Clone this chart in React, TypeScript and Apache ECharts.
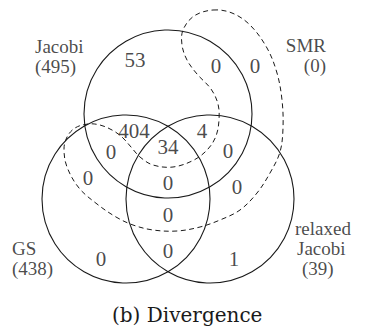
import { useEffect, useRef } from 'react';
import * as echarts from 'echarts';

// Cells of the divergence diagram: set membership (J = Jacobi, G = GS,
// R = relaxed Jacobi, S = SMR) and the number of cases in each cell.
const REGION_KEYS = ['J', 'J+S', 'S', 'J+G', 'J+R', 'J+G+S', 'J+G+R', 'J+R+S', 'G+S', 'J+G+R+S', 'R+S', 'G+R+S', 'G', 'G+R', 'R'];
const REGION_COUNTS = [53, 0, 0, 404, 4, 0, 34, 0, 0, 0, 0, 0, 0, 0, 1];

// Set names and totals.
const SET_NAME_LINES = [['Jacobi'], ['SMR'], ['GS'], ['relaxed', 'Jacobi']];
const SET_TOTALS = [495, 0, 438, 39];

const CAPTION = '(b) Divergence';

// ---- layout (diagram coordinates, y grows downward) ----
const REGION_ANCHORS: number[][] = [
  [135, 60], [216, 66], [255, 66], [134, 131], [202, 131], [111, 152], [168, 147],
  [228, 151], [88, 178], [168, 183], [237, 187], [168, 215], [101, 259], [168, 251], [234, 259],
];

// Circles for Jacobi, GS and relaxed Jacobi: [cx, cy, r].
const CIRCLES: number[][] = [
  [168, 114, 84],
  [126, 199, 84],
  [210, 199, 84],
];

// Outline of the SMR set (closed, drawn dashed).
const SMR_OUTLINE: number[][] = [
  [213, 10], [232, 13], [250, 25], [267, 48], [277, 73], [282, 100], [283, 128], [280, 152],
  [270, 173], [257, 193], [240, 210], [220, 220], [200, 227], [177, 231], [153, 230], [133, 225],
  [116, 217], [97, 204], [79, 188], [67, 167], [64, 149], [67, 137], [75, 128], [88, 124],
  [100, 125], [112, 130], [122, 137], [131, 147], [140, 157], [153, 165], [173, 167], [194, 160],
  [208, 149], [216, 136], [219, 120], [218, 104], [211, 89], [197, 74], [187, 60], [182, 45],
  [183, 30], [194, 16],
];

// Top-left anchor of each set label block, text alignment and per-line indent.
const SET_LABEL_LAYOUT: { anchor: number[]; align: 'left' | 'right'; indents: number[] }[] = [
  { anchor: [35, 36], align: 'left', indents: [0, 0] },
  { anchor: [326, 35], align: 'right', indents: [0, 0] },
  { anchor: [12, 238], align: 'left', indents: [0, 0] },
  { anchor: [295, 218], align: 'left', indents: [0, 2, 7] },
];

const SERIF = 'Liberation Serif';
const INK = '#1a1a1a';
const LINE_H = 20;

export default function App() {
  const ref = useRef<HTMLDivElement>(null);

  useEffect(() => {
    if (!ref.current) return;
    const chart = echarts.init(ref.current, undefined, { renderer: 'svg' });

    const regionData = REGION_KEYS.map((key, i) => ({
      name: key,
      value: [REGION_ANCHORS[i][0], REGION_ANCHORS[i][1], REGION_COUNTS[i]],
    }));

    const setLabelData = SET_NAME_LINES.map((nameLines, i) => {
      const texts = [...nameLines, `(${SET_TOTALS[i]})`];
      const layout = SET_LABEL_LAYOUT[i];
      const rich: Record<string, any> = {};
      const lines = texts.map((t, j) => {
        const key = `l${j}`;
        rich[key] = {
          fontFamily: SERIF,
          fontSize: 19,
          color: INK,
          lineHeight: LINE_H,
          padding: [0, 0, 0, layout.indents[j]],
        };
        return `{${key}|${t}}`;
      });
      return {
        name: SET_NAME_LINES[i].join(' '),
        value: layout.anchor,
        label: {
          align: layout.align,
          verticalAlign: 'top',
          formatter: lines.join('\n'),
          rich,
        },
      };
    });

    chart.setOption({
      animation: false,
      backgroundColor: '#ffffff',
      graphic: [
        {
          type: 'text',
          left: 112,
          top: 305,
          silent: true,
          style: {
            text: CAPTION,
            font: '20px "DejaVu Serif"',
            fill: INK,
          },
        },
      ],
      grid: { left: 0, right: 0, top: 0, bottom: 0 },
      xAxis: { type: 'value', min: 0, max: 366, show: false },
      yAxis: { type: 'value', min: 0, max: 327, inverse: true, show: false },
      series: [
        {
          type: 'custom',
          name: 'sets',
          data: CIRCLES,
          silent: true,
          renderItem: (_params: any, api: any) => {
            const c = api.coord([api.value(0), api.value(1)]);
            const r = api.size([api.value(2), 0])[0];
            return {
              type: 'circle',
              shape: { cx: c[0], cy: c[1], r },
              style: { fill: 'none', stroke: INK, lineWidth: 1.1 },
            };
          },
        },
        {
          type: 'custom',
          name: 'SMR',
          data: [0],
          silent: true,
          renderItem: (_params: any, api: any) => ({
            type: 'polygon',
            shape: {
              points: SMR_OUTLINE.map((p) => api.coord(p)),
              smooth: 0.35,
            },
            style: { fill: 'none', stroke: INK, lineWidth: 1, lineDash: [5, 3.5] },
          }),
        },
        {
          type: 'scatter',
          name: 'counts',
          symbolSize: 0,
          data: regionData,
          silent: true,
          label: {
            show: true,
            position: 'inside',
            formatter: (p: any) => String(p.value[2]),
            fontFamily: SERIF,
            fontSize: 21,
            color: INK,
          },
        },
        {
          type: 'scatter',
          name: 'set labels',
          symbolSize: 0,
          data: setLabelData,
          silent: true,
          label: {
            show: true,
            position: 'inside',
          },
        },
      ],
    });

    return () => chart.dispose();
  }, []);

  return (
    <div
      ref={ref}
      style={{ position: 'fixed', left: 0, top: 0, width: 366, height: 327, background: '#fff' }}
    />
  );
}
